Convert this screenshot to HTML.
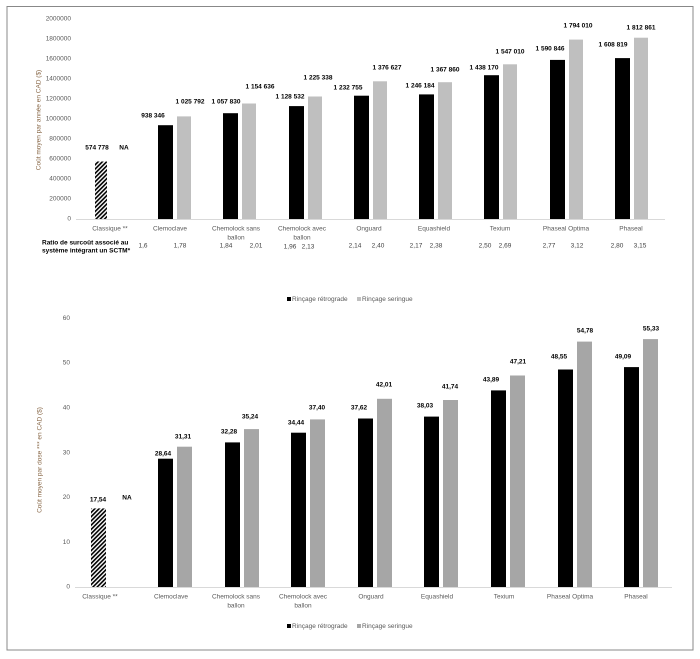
<!DOCTYPE html>
<html><head><meta charset="utf-8"><style>
html,body{margin:0;padding:0;background:#fff;}
svg{display:block;font-family:"Liberation Sans",sans-serif;}
.t{font-size:6.5px;fill:#595959;}
.b{font-size:6.5px;font-weight:bold;fill:#000;}
.r{font-size:6.5px;fill:#404040;}
</style></head><body>
<svg width="700" height="659" viewBox="0 0 700 659">
<defs>
<pattern id="h" width="3" height="3" patternUnits="userSpaceOnUse" patternTransform="rotate(45)">
<rect width="3" height="3" fill="#fff"/><rect width="1.6" height="3" fill="#000"/>
</pattern>
</defs>
<rect x="7" y="6.5" width="686" height="643.5" fill="none" stroke="#888" stroke-width="1"/>

<!-- TOP CHART -->
<g class="t" text-anchor="end" dominant-baseline="middle">
<text x="71" y="219">0</text><text x="71" y="199">200000</text><text x="71" y="179">400000</text><text x="71" y="159">600000</text><text x="71" y="139">800000</text><text x="71" y="119">1000000</text><text x="71" y="99">1200000</text><text x="71" y="79">1400000</text><text x="71" y="59">1600000</text><text x="71" y="39">1800000</text><text x="71" y="19">2000000</text>
</g>
<text class="t" transform="translate(39,120) rotate(-90)" text-anchor="middle" dominant-baseline="middle" style="fill:#8a6a4a">Coût moyen par année en CAD ($)</text>
<line x1="76" y1="219.5" x2="665" y2="219.5" stroke="#d9d9d9"/>
<rect x="95" y="161.5" width="12" height="57.5" fill="url(#h)"/>
<g fill="#000">
<rect x="158" y="125.2" width="15" height="93.8"/><rect x="223" y="113.2" width="15" height="105.8"/><rect x="289" y="106.1" width="15" height="112.9"/><rect x="354" y="95.7" width="15" height="123.3"/><rect x="419" y="94.4" width="15" height="124.6"/><rect x="484" y="75.2" width="15" height="143.8"/><rect x="550" y="59.9" width="15" height="159.1"/><rect x="615" y="58.1" width="15" height="160.9"/>
</g>
<g fill="#bfbfbf">
<rect x="177" y="116.4" width="14" height="102.6"/><rect x="242" y="103.5" width="14" height="115.5"/><rect x="308" y="96.5" width="14" height="122.5"/><rect x="373" y="81.3" width="14" height="137.7"/><rect x="438" y="82.2" width="14" height="136.8"/><rect x="503" y="64.3" width="14" height="154.7"/><rect x="569" y="39.6" width="14" height="179.4"/><rect x="634" y="37.7" width="14" height="181.3"/>
</g>
<g class="b" text-anchor="middle" dominant-baseline="middle">
<text x="97" y="148">574 778</text><text x="124" y="148">NA</text>
<text x="153" y="116">938 346</text><text x="190" y="102">1 025 792</text>
<text x="226" y="102">1 057 830</text><text x="260" y="87">1 154 636</text>
<text x="290" y="97">1 128 532</text><text x="318" y="78">1 225 338</text>
<text x="348" y="88">1 232 755</text><text x="387" y="68">1 376 627</text>
<text x="420" y="86">1 246 184</text><text x="445" y="70">1 367 860</text>
<text x="484" y="68">1 438 170</text><text x="510" y="52">1 547 010</text>
<text x="550" y="49">1 590 846</text><text x="578" y="26">1 794 010</text>
<text x="613" y="45">1 608 819</text><text x="641" y="28">1 812 861</text>
</g>
<g class="t" text-anchor="middle" dominant-baseline="middle">
<text x="110" y="229">Classique **</text><text x="170" y="229">Clemoclave</text>
<text x="236" y="229">Chemolock sans</text><text x="236" y="238">ballon</text>
<text x="302" y="229">Chemolock avec</text><text x="302" y="238">ballon</text>
<text x="369" y="229">Onguard</text><text x="434" y="229">Equashield</text><text x="500" y="229">Texium</text><text x="566" y="229">Phaseal Optima</text><text x="631" y="229">Phaseal</text>
</g>
<g class="b" dominant-baseline="middle">
<text x="42" y="243">Ratio de surcoût associé au</text>
<text x="42" y="251">système intégrant un SCTM*</text>
</g>
<g class="r" text-anchor="middle" dominant-baseline="middle">
<text x="143" y="246">1,6</text><text x="180" y="246">1,78</text><text x="226" y="246">1,84</text><text x="256" y="246">2,01</text><text x="290" y="247">1,96</text><text x="308" y="247">2,13</text><text x="355" y="246">2,14</text><text x="378" y="246">2,40</text><text x="416" y="246">2,17</text><text x="436" y="246">2,38</text><text x="485" y="246">2,50</text><text x="505" y="246">2,69</text><text x="549" y="246">2,77</text><text x="577" y="246">3,12</text><text x="617" y="246">2,80</text><text x="640" y="246">3,15</text>
</g>
<rect x="287" y="297" width="4" height="4" fill="#000"/><text class="t" x="292" y="299.5" dominant-baseline="middle" font-size="6">Rinçage rétrograde</text>
<rect x="357" y="297" width="4" height="4" fill="#bfbfbf"/><text class="t" x="362" y="299.5" dominant-baseline="middle" font-size="6">Rinçage seringue</text>

<!-- BOTTOM CHART -->
<g class="t" text-anchor="end" dominant-baseline="middle">
<text x="70" y="587">0</text><text x="70" y="542.2">10</text><text x="70" y="497.4">20</text><text x="70" y="452.6">30</text><text x="70" y="407.8">40</text><text x="70" y="363">50</text><text x="70" y="318.2">60</text>
</g>
<text class="t" transform="translate(40,460) rotate(-90)" text-anchor="middle" dominant-baseline="middle" style="fill:#8a6a4a">Coût moyen par dose *** en CAD ($)</text>
<line x1="75" y1="587.5" x2="672" y2="587.5" stroke="#d9d9d9"/>
<rect x="91" y="508.4" width="15" height="78.6" fill="url(#h)"/>
<g fill="#000">
<rect x="158" y="458.7" width="15" height="128.3"/><rect x="225" y="442.4" width="15" height="144.6"/><rect x="291" y="432.7" width="15" height="154.3"/><rect x="358" y="418.5" width="15" height="168.5"/><rect x="424" y="416.6" width="15" height="170.4"/><rect x="491" y="390.4" width="15" height="196.6"/><rect x="558" y="369.5" width="15" height="217.5"/><rect x="624" y="367.1" width="15" height="219.9"/>
</g>
<g fill="#a6a6a6">
<rect x="177" y="446.7" width="15" height="140.3"/><rect x="244" y="429.1" width="15" height="157.9"/><rect x="310" y="419.4" width="15" height="167.6"/><rect x="377" y="398.8" width="15" height="188.2"/><rect x="443" y="400" width="15" height="187"/><rect x="510" y="375.5" width="15" height="211.5"/><rect x="577" y="341.6" width="15" height="245.4"/><rect x="643" y="339.1" width="15" height="247.9"/>
</g>
<g class="b" text-anchor="middle" dominant-baseline="middle">
<text x="98" y="500">17,54</text><text x="127" y="498">NA</text>
<text x="163" y="454">28,64</text><text x="183" y="437">31,31</text>
<text x="229" y="432">32,28</text><text x="250" y="417">35,24</text>
<text x="296" y="423">34,44</text><text x="317" y="408">37,40</text>
<text x="359" y="408">37,62</text><text x="384" y="385">42,01</text>
<text x="425" y="406">38,03</text><text x="450" y="387">41,74</text>
<text x="491" y="380">43,89</text><text x="518" y="362">47,21</text>
<text x="559" y="357">48,55</text><text x="585" y="331">54,78</text>
<text x="623" y="357">49,09</text><text x="651" y="329">55,33</text>
</g>
<g class="t" text-anchor="middle" dominant-baseline="middle">
<text x="100" y="597">Classique **</text><text x="171" y="597">Clemoclave</text>
<text x="236" y="597">Chemolock sans</text><text x="236" y="606">ballon</text>
<text x="303" y="597">Chemolock avec</text><text x="303" y="606">ballon</text>
<text x="371" y="597">Onguard</text><text x="437" y="597">Equashield</text><text x="504" y="597">Texium</text><text x="570" y="597">Phaseal Optima</text><text x="636" y="597">Phaseal</text>
</g>
<rect x="287" y="624" width="4" height="4" fill="#000"/><text class="t" x="292" y="626.5" dominant-baseline="middle" font-size="6">Rinçage rétrograde</text>
<rect x="357" y="624" width="4" height="4" fill="#a6a6a6"/><text class="t" x="362" y="626.5" dominant-baseline="middle" font-size="6">Rinçage seringue</text>
</svg>
</body></html>
